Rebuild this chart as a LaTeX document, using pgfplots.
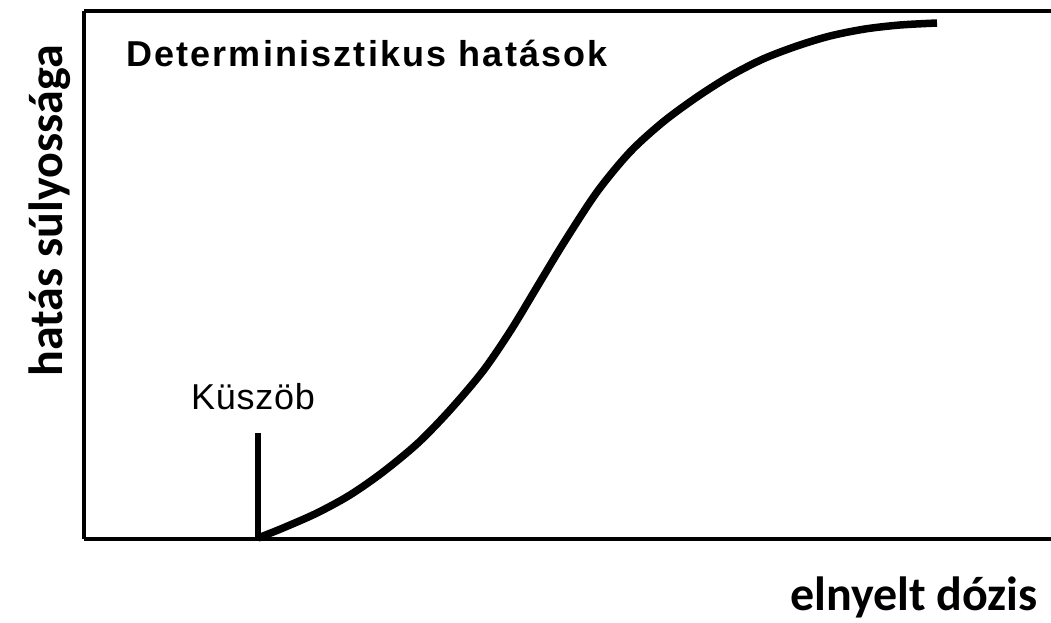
\documentclass[border=0pt]{standalone}
\usepackage{pgfplots}
\pgfplotsset{compat=1.18}
\usepackage{fontspec}
\setmainfont{Liberation Sans}
\newfontfamily\titlefont[LetterSpace=6]{Liberation Sans Bold}
\newfontfamily\markfont[LetterSpace=2]{Liberation Sans}
\newfontfamily\labelfont{Carlito}[BoldFont=* Bold]

% dose-response curve of deterministic effects (threshold, then sigmoid rise)
\pgfplotstableread{
x y
258 84
283 94
317 109
350 127
383 150
418 179
450 212
483 251
511 292
537 335
563 378
597 430
630 470
663 500
697 525
730 546
763 563
797 576
830 586
865 593
900 597
937 599
}\response

\pgfplotstableread{
x y
258 84
258 189
}\threshold

\begin{document}
\begin{tikzpicture}
\path[use as bounding box] (0,0) rectangle (1051pt,622pt);
\begin{axis}[
  at={(84pt,83.5pt)}, anchor=south west,
  scale only axis,
  width=967pt, height=527.5pt,
  xmin=84, xmax=1051, ymin=83.5, ymax=611,
  axis x line=box, axis y line=left,
  axis line style={-, line width=4pt, black},
  xtick=\empty, ytick=\empty,
  clip=false,
]
\addplot[black, line width=7.5pt, smooth] table {\response};
\addplot[black, line width=6.5pt] table {\threshold};

\node[anchor=base west, inner sep=0pt, font=\fontsize{36}{42}\selectfont\titlefont]
  at (axis cs:126,555) {Determinisztikus hatások};
\node[anchor=base west, inner sep=0pt, font=\fontsize{36}{42}\selectfont\markfont]
  at (axis cs:191,213) {Küszöb};
\node[anchor=base, rotate=90, inner sep=0pt, font=\fontsize{48}{56}\selectfont\labelfont\bfseries]
  at (axis cs:62,411) {hatás súlyossága};
\node[anchor=base east, inner sep=0pt, font=\fontsize{48}{56}\selectfont\labelfont\bfseries]
  at (axis cs:1038,12) {elnyelt dózis};
\end{axis}
\end{tikzpicture}
\end{document}
